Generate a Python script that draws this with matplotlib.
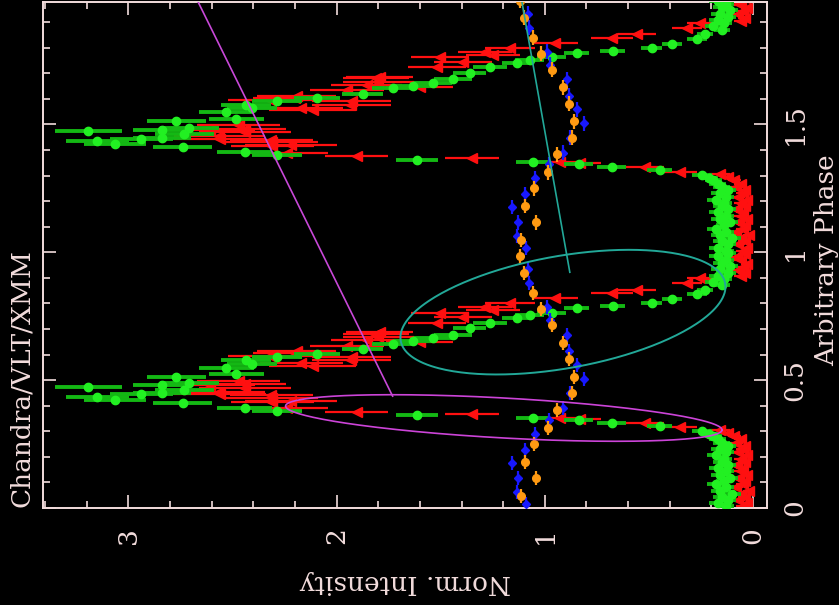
import numpy as np
import matplotlib
matplotlib.use("Agg")
import matplotlib.pyplot as plt
from matplotlib.ticker import MultipleLocator, FuncFormatter

# ---- one folded cycle of each light curve (phase, normalised intensity, error) ----
# XMM (green)
xmm_phase = [0.006, 0.018, 0.031, 0.043, 0.056, 0.068, 0.081, 0.093, 0.106, 0.118,
             0.131, 0.143, 0.156, 0.168, 0.181, 0.193, 0.206, 0.218, 0.231, 0.243,
             0.256, 0.268, 0.281, 0.290,
             0.301, 0.320, 0.332, 0.344, 0.352, 0.363, 0.379, 0.391, 0.410, 0.422,
             0.434, 0.445, 0.449, 0.461, 0.473, 0.480, 0.488, 0.512, 0.523, 0.547,
             0.5625, 0.578, 0.590, 0.602, 0.621, 0.641, 0.652, 0.664, 0.676, 0.703,
             0.723, 0.742, 0.754, 0.762, 0.781, 0.789, 0.801, 0.816, 0.836, 0.852,
             0.871,
             0.884, 0.896, 0.909, 0.921, 0.934, 0.946, 0.959, 0.971, 0.984, 0.996]
xmm_int = [0.13, 0.17, 0.12, 0.15, 0.10, 0.16, 0.13, 0.18, 0.14, 0.11,
           0.16, 0.13, 0.17, 0.12, 0.15, 0.14, 0.18, 0.13, 0.16, 0.12,
           0.15, 0.17, 0.19, 0.21,
           0.245, 0.447, 0.678, 0.837, 1.058, 1.615, 2.288, 2.442, 2.740, 3.063,
           3.149, 2.938, 2.837, 2.731, 3.192, 2.837, 2.707, 2.769, 2.481, 2.529,
           2.404, 2.433, 2.288, 2.096, 1.875, 1.731, 1.635, 1.538, 1.442, 1.361,
           1.264, 1.135, 1.072, 0.966, 0.846, 0.673, 0.486, 0.389, 0.269, 0.231,
           0.149,
           0.19, 0.14, 0.17, 0.12, 0.16, 0.11, 0.15, 0.13, 0.17, 0.12]
xmm_err = [0.04] * 24 + \
          [0.05, 0.06, 0.07, 0.07, 0.08, 0.10, 0.12, 0.13, 0.14, 0.15,
           0.15, 0.15, 0.14, 0.14, 0.16, 0.14, 0.14, 0.14, 0.13, 0.13,
           0.12, 0.12, 0.12, 0.11, 0.10, 0.10, 0.09, 0.09, 0.09, 0.08,
           0.08, 0.07, 0.07, 0.07, 0.06, 0.06, 0.05, 0.05, 0.05, 0.04,
           0.04] + [0.04] * 10

# Chandra (red)
chandra_phase = [0.006, 0.018, 0.031, 0.043, 0.056, 0.068, 0.081, 0.093, 0.106, 0.118,
                 0.131, 0.143, 0.156, 0.168, 0.181, 0.193, 0.206, 0.218, 0.231, 0.243,
                 0.256, 0.268, 0.281, 0.293,
                 0.305, 0.316, 0.332, 0.348, 0.352, 0.367, 0.375,
                 0.390, 0.414, 0.418, 0.430, 0.441, 0.445, 0.453, 0.469, 0.480, 0.484,
                 0.496,
                 0.555, 0.566, 0.578, 0.590, 0.594, 0.605, 0.613, 0.633, 0.648, 0.656,
                 0.668, 0.680, 0.6875, 0.723, 0.746, 0.762, 0.773, 0.785, 0.801, 0.820,
                 0.840, 0.852, 0.879, 0.891, 0.898,
                 0.906, 0.918, 0.931, 0.943, 0.956, 0.968, 0.981, 0.993]
chandra_int = [0.05, 0.03, 0.07, 0.04, 0.06, 0.02, 0.08, 0.05, 0.04, 0.07,
               0.03, 0.06, 0.05, 0.08, 0.04, 0.06, 0.03, 0.07, 0.05, 0.04,
               0.08, 0.06, 0.09, 0.12,
               0.16, 0.351, 0.519, 0.83, 0.928, 1.351, 1.904,
               2.24, 2.308, 2.22, 2.31, 2.313, 2.56, 2.563, 2.44, 2.61, 2.442,
               2.47,
               2.115, 2.17, 1.93, 1.928, 2.32, 2.20, 2.192, 1.95, 1.601, 1.856,
               1.80, 1.81, 1.793, 1.519, 1.394, 1.505, 1.25, 1.288, 1.168, 0.952,
               0.678, 0.558, 0.317, 0.192, 0.255,
               0.06, 0.04, 0.07, 0.05, 0.03, 0.06, 0.08, 0.04]
chandra_err = [0.03] * 24 + \
              [0.05, 0.08, 0.09, 0.10, 0.11, 0.13, 0.15,
               0.20, 0.20, 0.22, 0.22, 0.20, 0.22, 0.22, 0.22, 0.22, 0.20,
               0.20,
               0.21, 0.20, 0.19, 0.19, 0.20, 0.20, 0.19, 0.18, 0.16, 0.17,
               0.17, 0.16, 0.16, 0.14, 0.14, 0.14, 0.13, 0.13, 0.12, 0.11,
               0.10, 0.09, 0.07, 0.06, 0.06] + [0.03] * 8

# VLT optical, two bands
vlt_blue_phase = [0.016, 0.0625, 0.117, 0.176, 0.227, 0.289, 0.344, 0.390, 0.449,
                  0.504, 0.559, 0.613, 0.676, 0.734, 0.785, 0.879, 0.934]
vlt_blue_int = [1.091, 1.135, 1.130, 1.159, 1.096, 1.048, 0.981, 0.913, 0.880,
                0.8125, 0.846, 0.885, 0.894, 0.976, 0.990, 1.077, 1.080]
vlt_orange_phase = [0.047, 0.117, 0.180, 0.250, 0.3125, 0.383, 0.449, 0.512, 0.582,
                    0.645, 0.715, 0.777, 0.840, 0.918, 0.984]
vlt_orange_int = [1.115, 1.043, 1.096, 1.053, 0.986, 0.942, 0.870, 0.861, 0.885,
                  0.913, 0.966, 1.019, 1.058, 1.100, 1.120]
vlt_phase_err = 0.028

# overlays: straight guide lines and ellipses (centre + two semi-diameters)
magenta_line_int = [2.668, 1.731]
magenta_line_phase = [1.984, 0.4375]
teal_line_int = [1.111, 0.880]
teal_line_phase = [1.984, 0.922]
magenta_ell_centre = [1.197, 0.352]
magenta_ell_axes = [[-1.048, -0.047], [0.005, -0.078]]
teal_ell_centre = [0.913, 0.766]
teal_ell_axes = [[-0.779, 0.113], [-0.049, -0.216]]

fg = "#f2dcdc"
plt.rcParams["font.family"] = ["DejaVu Serif"]


def two_cycles(phase, values):
    p = np.asarray(phase, float)
    return np.concatenate([p, p + 1]), np.concatenate([values, values])


def ellipse(centre, axes, n=300):
    t = np.linspace(0, 2 * np.pi, n)
    a, b = np.asarray(axes[0]), np.asarray(axes[1])
    xs = centre[0] + a[0] * np.cos(t) + b[0] * np.sin(t)
    ys = centre[1] + a[1] * np.cos(t) + b[1] * np.sin(t)
    return xs, ys


fig = plt.figure(figsize=(8.39, 6.05), dpi=100, facecolor="black")
ax = fig.add_axes([43 / 839, 97 / 605, 724 / 839, 506 / 605], facecolor="black")

# Chandra
ph, val = two_cycles(chandra_phase, chandra_int)
_, err = two_cycles(chandra_phase, chandra_err)
ax.errorbar(val, ph, xerr=err, fmt="<", color="#ff1010", ecolor="#ff1010",
            ms=6.5, mec="#ff1010", elinewidth=1.6, capsize=0, zorder=2)

# XMM
ph, val = two_cycles(xmm_phase, xmm_int)
_, err = two_cycles(xmm_phase, xmm_err)
ax.errorbar(val, ph, xerr=err, fmt="o", color="#22f022", ecolor="#14b814",
            ms=6, mec="#22f022", elinewidth=2.8, capsize=0, zorder=3)

# VLT
ph, val = two_cycles(vlt_blue_phase, vlt_blue_int)
ax.errorbar(val, ph, yerr=vlt_phase_err, fmt="D", color="#1818ff", ecolor="#1818ff",
            ms=4.5, elinewidth=1.6, capsize=0, zorder=4)
ph, val = two_cycles(vlt_orange_phase, vlt_orange_int)
ax.errorbar(val, ph, yerr=vlt_phase_err, fmt="o", color="#ff9a12", ecolor="#ff9a12",
            ms=5.5, elinewidth=1.6, capsize=0, zorder=5)

# guide lines and ellipses
ax.plot(magenta_line_int, magenta_line_phase, color="#c848d8", lw=1.2, zorder=6)
ax.plot(teal_line_int, teal_line_phase, color="#22a898", lw=1.2, zorder=6)
ax.plot(*ellipse(magenta_ell_centre, magenta_ell_axes), color="#cc44d8", lw=1.2, zorder=6)
ax.plot(*ellipse(teal_ell_centre, teal_ell_axes), color="#22a898", lw=1.4, zorder=6)

ax.set_xlim(3.41, -0.067)
ax.set_ylim(0, 1.979)

ax.xaxis.set_major_locator(MultipleLocator(1))
ax.xaxis.set_minor_locator(MultipleLocator(0.2))
ax.yaxis.set_major_locator(MultipleLocator(0.5))
ax.yaxis.set_minor_locator(MultipleLocator(0.1))
fmt = FuncFormatter(lambda v, p: f"{v:g}")
ax.xaxis.set_major_formatter(fmt)
ax.yaxis.set_major_formatter(fmt)

for s in ax.spines.values():
    s.set_color(fg)
    s.set_linewidth(1.4)
ax.tick_params(which="both", direction="in", top=True, bottom=True, left=True,
               right=True, color=fg, width=1.2, labelcolor=fg, labelsize=19)
ax.tick_params(which="major", length=9.5)
ax.tick_params(which="minor", length=5)
ax.tick_params(axis="x", labelbottom=True, labeltop=False, labelrotation=90, pad=14)
ax.tick_params(axis="y", labelleft=False, labelright=True, labelrotation=90, pad=11)
plt.setp(ax.get_yticklabels(), va="center")
plt.setp(ax.get_xticklabels(), ha="center")

fig.text(405 / 839, 1 - 583 / 605, "Norm. Intensity", rotation=180, color=fg,
         fontsize=19, ha="center", va="center")
fig.text(827 / 839, 1 - 260 / 605, "Arbitrary Phase", rotation=90, color=fg,
         fontsize=19, ha="center", va="center")
fig.text(22 / 839, 1 - 507 / 605, "Chandra/VLT/XMM", rotation=90, color=fg,
         fontsize=19, ha="center", va="bottom")

fig.savefig("out.png", dpi=100, facecolor="black")
